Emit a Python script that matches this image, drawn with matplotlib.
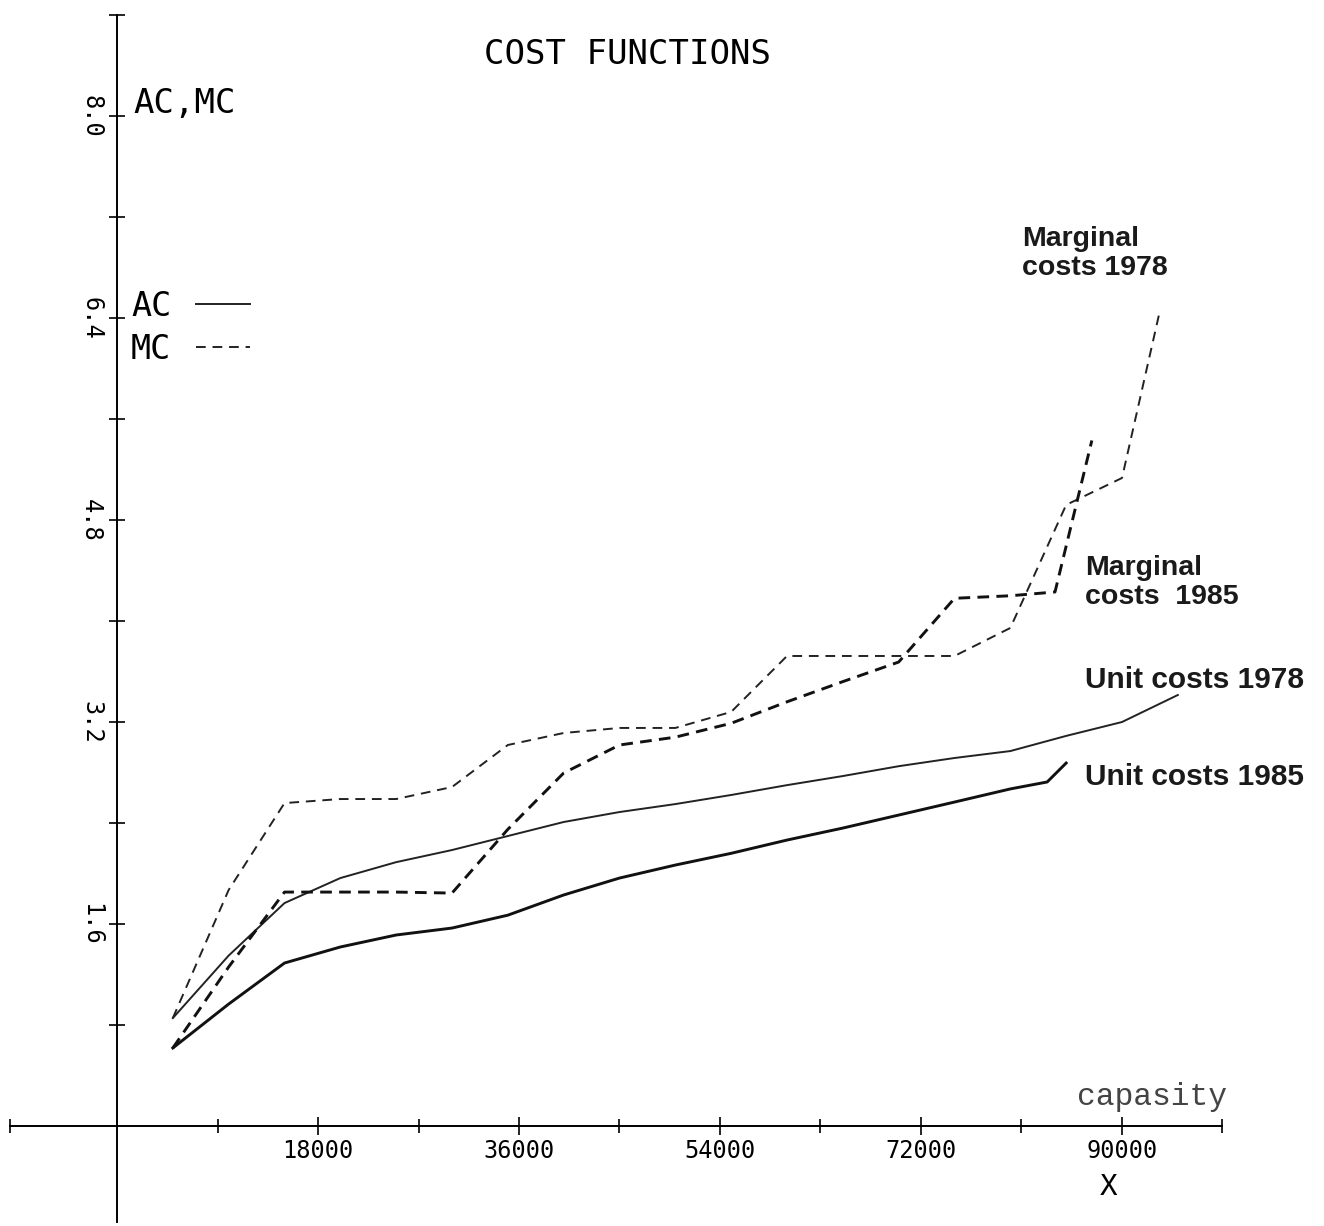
import matplotlib
matplotlib.use("Agg")
import matplotlib.pyplot as plt

# --- data (capacity vs cost) ---
cap_ac78 = [5000, 10000, 15000, 20000, 25000, 30000, 35000, 40000, 45000, 50000,
            55000, 60000, 65000, 70000, 75000, 80000, 85000, 90000, 95000]
ac_78 = [0.855, 1.35, 1.766, 1.964, 2.09, 2.186, 2.297, 2.408, 2.487, 2.55,
         2.622, 2.70, 2.772, 2.85, 2.915, 2.97, 3.09, 3.20, 3.414]

cap_ac85 = [5000, 10000, 15000, 20000, 25000, 30000, 35000, 40000, 45000, 50000,
            55000, 60000, 65000, 70000, 75000, 80000, 83300, 85000]
ac_85 = [0.618, 0.966, 1.291, 1.418, 1.513, 1.568, 1.67, 1.83, 1.964, 2.067,
         2.16, 2.265, 2.36, 2.463, 2.566, 2.67, 2.725, 2.875]

cap_mc78 = [5000, 10000, 15000, 20000, 25000, 30000, 35000, 40000, 45000, 50000,
            55000, 60000, 75000, 80000, 85000, 90000, 93400]
mc_78 = [0.855, 1.87, 2.558, 2.59, 2.59, 2.685, 3.018, 3.113, 3.153, 3.153,
         3.28, 3.723, 3.723, 3.945, 4.92, 5.133, 6.46]

cap_mc85 = [5000, 10000, 15000, 20000, 25000, 30000, 35000, 40000, 45000, 50000,
            55000, 60000, 65000, 70000, 75000, 80000, 84000, 87300]
mc_85 = [0.618, 1.26, 1.853, 1.853, 1.853, 1.845, 2.35, 2.796, 3.018, 3.08,
         3.19, 3.36, 3.52, 3.675, 4.18, 4.2, 4.23, 5.43]

x_major = [18000, 36000, 54000, 72000, 90000]
x_minor = [-9600, 9000, 27000, 45000, 63000, 81000, 99000]
y_major = [1.6, 3.2, 4.8, 6.4, 8.0]
y_minor = [0.8, 2.4, 4.0, 5.6, 7.2, 8.8]

plotter = "DejaVu Sans Mono"
label_font = "Liberation Sans"

fig = plt.figure(figsize=(13.24, 12.26), dpi=100)
ax = fig.add_axes([0, 0, 1, 1])
ax.set_xlim(-10478, 108090)
ax.set_ylim(-0.792, 8.919)

# cross-shaped axes through the origin
for side in ["top", "right"]:
    ax.spines[side].set_visible(False)
ax.spines["left"].set_position(("data", 0))
ax.spines["bottom"].set_position(("data", 0))
ax.spines["left"].set_bounds(-0.76, 8.8)
ax.spines["bottom"].set_bounds(-9600, 99000)
ax.spines["left"].set_linewidth(1.4)
ax.spines["bottom"].set_linewidth(1.4)

ax.set_xticks(x_major)
ax.set_xticklabels([str(v) for v in x_major], family=plotter, fontsize=17)
ax.set_xticks(x_minor, minor=True)
ax.set_yticks(y_major)
ax.set_yticklabels([f"{v:.1f}" for v in y_major], family=plotter, fontsize=17,
                   rotation=-90, va="center", ha="right")
ax.set_yticks(y_minor, minor=True)
ax.tick_params(axis="x", which="major", direction="inout", length=13, width=1.2, pad=3)
ax.tick_params(axis="x", which="minor", direction="inout", length=10, width=1.2)
ax.tick_params(axis="y", which="both", direction="inout", length=12, width=1.2, pad=4)

# curves
l_ac, = ax.plot(cap_ac78, ac_78, color="#222222", lw=1.4, label="AC")
ax.plot(cap_ac85, ac_85, color="#111111", lw=2.1)
l_mc, = ax.plot(cap_mc78, mc_78, color="#222222", lw=1.4, ls=(0, (5, 3.5)), label="MC")
ax.plot(cap_mc85, mc_85, color="#111111", lw=2.1, ls=(0, (4, 2.5)))

leg = ax.legend(handles=[l_ac, l_mc], loc="upper left",
                bbox_to_anchor=(131 / 1324, 1 - 290 / 1226),
                frameon=False, markerfirst=False, borderpad=0, borderaxespad=0,
                handlelength=1.6, handletextpad=0.75, labelspacing=0.3,
                prop={"family": plotter, "size": 24})

# texts
ax.text(628 / 1324, 1 - 55 / 1226, "COST FUNCTIONS", transform=ax.transAxes,
        family=plotter, fontsize=24.5, ha="center", va="center")
ax.text(133 / 1324, 1 - 103 / 1226, "AC,MC", transform=ax.transAxes,
        family=plotter, fontsize=24.5, ha="left", va="center")
ax.text(1152 / 1324, 1 - 1097 / 1226, "capasity", transform=ax.transAxes,
        family="Liberation Mono", fontsize=22.5, color="#444444", ha="center", va="center")
ax.text(1108 / 1324, 1 - 1187 / 1226, "X", transform=ax.transAxes,
        family=plotter, fontsize=21, ha="center", va="center")

ax.text(1022 / 1324, 1 - 226 / 1226, "Marginal\ncosts 1978", transform=ax.transAxes,
        family=label_font, weight="bold", fontsize=20.5, ha="left", va="top",
        color="#1a1a1a", linespacing=1.15)
ax.text(1085 / 1324, 1 - 555 / 1226, "Marginal\ncosts  1985", transform=ax.transAxes,
        family=label_font, weight="bold", fontsize=20.5, ha="left", va="top",
        color="#1a1a1a", linespacing=1.15)
ax.text(1085 / 1324, 1 - 680 / 1226, "Unit costs 1978", transform=ax.transAxes,
        family=label_font, weight="bold", fontsize=21.5, ha="left", va="center",
        color="#1a1a1a")
ax.text(1085 / 1324, 1 - 777 / 1226, "Unit costs 1985", transform=ax.transAxes,
        family=label_font, weight="bold", fontsize=21.5, ha="left", va="center",
        color="#1a1a1a")

fig.savefig("out.png", dpi=100)
